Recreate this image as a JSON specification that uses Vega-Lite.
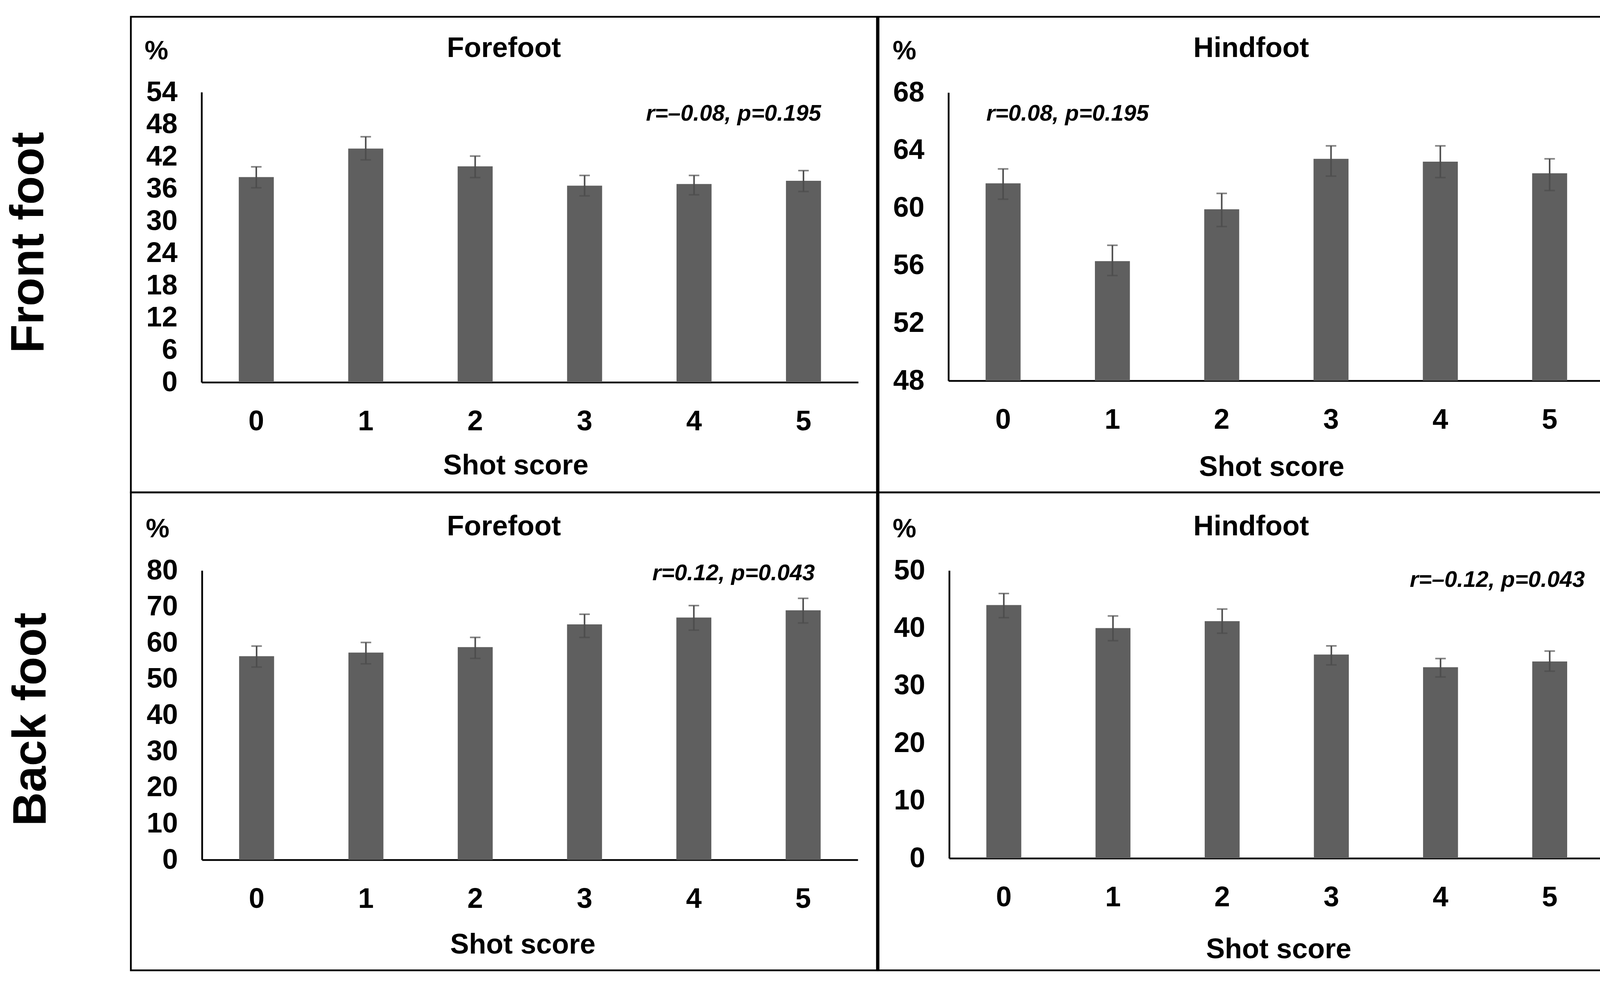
{
  "$schema": "https://vega.github.io/schema/vega-lite/v6.json",
  "padding": {"left": 0, "top": 40, "right": 0, "bottom": 0},
  "background": "white",
  "data": {
    "values": [
      {"panel": "front_fore", "score": 0, "mean": 38.2, "lo": 36.2, "hi": 40.1},
      {"panel": "front_fore", "score": 1, "mean": 43.5, "lo": 41.4, "hi": 45.7},
      {"panel": "front_fore", "score": 2, "mean": 40.2, "lo": 38.1, "hi": 42.1},
      {"panel": "front_fore", "score": 3, "mean": 36.6, "lo": 34.7, "hi": 38.5},
      {"panel": "front_fore", "score": 4, "mean": 36.9, "lo": 34.9, "hi": 38.5},
      {"panel": "front_fore", "score": 5, "mean": 37.5, "lo": 35.5, "hi": 39.4},
      {"panel": "front_hind", "score": 0, "mean": 61.7, "lo": 60.6, "hi": 62.7},
      {"panel": "front_hind", "score": 1, "mean": 56.3, "lo": 55.3, "hi": 57.4},
      {"panel": "front_hind", "score": 2, "mean": 59.9, "lo": 58.7, "hi": 61.0},
      {"panel": "front_hind", "score": 3, "mean": 63.4, "lo": 62.2, "hi": 64.3},
      {"panel": "front_hind", "score": 4, "mean": 63.2, "lo": 62.1, "hi": 64.3},
      {"panel": "front_hind", "score": 5, "mean": 62.4, "lo": 61.2, "hi": 63.4},
      {"panel": "back_fore", "score": 0, "mean": 56.3, "lo": 53.3, "hi": 59.1},
      {"panel": "back_fore", "score": 1, "mean": 57.3, "lo": 54.2, "hi": 60.1},
      {"panel": "back_fore", "score": 2, "mean": 58.8, "lo": 55.7, "hi": 61.5},
      {"panel": "back_fore", "score": 3, "mean": 65.1, "lo": 61.5, "hi": 67.9},
      {"panel": "back_fore", "score": 4, "mean": 67.0, "lo": 63.5, "hi": 70.3},
      {"panel": "back_fore", "score": 5, "mean": 69.0, "lo": 65.5, "hi": 72.3},
      {"panel": "back_hind", "score": 0, "mean": 44.0, "lo": 41.8, "hi": 46.0},
      {"panel": "back_hind", "score": 1, "mean": 40.0, "lo": 37.8, "hi": 42.1},
      {"panel": "back_hind", "score": 2, "mean": 41.2, "lo": 39.1, "hi": 43.3},
      {"panel": "back_hind", "score": 3, "mean": 35.4, "lo": 33.6, "hi": 36.9},
      {"panel": "back_hind", "score": 4, "mean": 33.2, "lo": 31.5, "hi": 34.7},
      {"panel": "back_hind", "score": 5, "mean": 34.2, "lo": 32.5, "hi": 36.0}
    ]
  },
  "columns": 3,
  "spacing": {"row": 0, "column": 4},
  "bounds": "flush",
  "concat": [
    {
      "width": 331, "height": 1218,
      "view": {"stroke": null},
      "data": {"values": [{"label": "Front foot"}]},
      "mark": {"type": "text", "angle": 270, "fontSize": 120, "fontWeight": "bold", "align": "center", "baseline": "middle", "dx": 31, "dy": -91, "color": "#000"},
      "encoding": {"text": {"field": "label"}}
    },
    {
      "width": 1910, "height": 1218,
      "title": {"text": "Forefoot", "offset": -118},
      "transform": [{"filter": "datum.panel === 'front_fore'"}],
      "encoding": {
        "x": {"field": "score", "type": "ordinal", "title": "Shot score",
              "scale": {"range": [181, 1862], "paddingInner": 0.68, "paddingOuter": 0.34},
              "axis": {"offset": -282, "titleX": 985, "titleY": 213}}
      },
      "layer": [
        {"mark": {"type": "bar", "color": "#5f5f5f"},
         "encoding": {"y": {"field": "mean", "type": "quantitative", "title": "%",
           "scale": {"domain": [0, 54], "range": [936, 193], "nice": false, "zero": false},
           "axis": {"offset": -181, "values": [0, 6, 12, 18, 24, 30, 36, 42, 48, 54], "format": "d", "titleX": -116, "titleY": 88}}}},
        {"mark": {"type": "rule", "color": "#4d4d4d", "strokeWidth": 4},
         "encoding": {"y": {"field": "lo", "type": "quantitative", "title": "%"}, "y2": {"field": "hi"}}},
        {"mark": {"type": "tick", "color": "#4d4d4d", "thickness": 4, "size": 27},
         "encoding": {"y": {"field": "hi", "type": "quantitative", "title": "%"}}},
        {"mark": {"type": "tick", "color": "#4d4d4d", "thickness": 4, "size": 27},
         "encoding": {"y": {"field": "lo", "type": "quantitative", "title": "%"}}},
        {"data": {"values": [{"panel": "front_fore", "note": "r=–0.08, p=0.195"}]},
         "mark": {"type": "text", "align": "right", "baseline": "middle", "dx": 45, "fontSize": 58, "fontStyle": "italic", "fontWeight": "bold", "color": "#000"},
         "encoding": {"x": {"datum": 5, "type": "ordinal"}, "y": {"datum": 49.9, "type": "quantitative"}, "text": {"field": "note"}}}
      ]
    },
    {
      "width": 1908, "height": 1218,
      "view": {"strokeDash": [1908, 1218, 3126, 10]},
      "title": {"text": "Hindfoot", "offset": -118},
      "transform": [{"filter": "datum.panel === 'front_hind'"}],
      "encoding": {
        "x": {"field": "score", "type": "ordinal", "title": "Shot score",
              "scale": {"range": [179, 1858], "paddingInner": 0.68, "paddingOuter": 0.34},
              "axis": {"offset": -286, "titleX": 1006, "titleY": 221}}
      },
      "layer": [
        {"mark": {"type": "bar", "color": "#5f5f5f"},
         "encoding": {"y": {"field": "mean", "type": "quantitative", "title": "%",
           "scale": {"domain": [48, 68], "range": [932, 194], "nice": false, "zero": false},
           "axis": {"offset": -179, "values": [48, 52, 56, 60, 64, 68], "format": "d", "titleX": -113, "titleY": 88}},
           "y2": {"datum": 48}}},
        {"mark": {"type": "rule", "color": "#4d4d4d", "strokeWidth": 4},
         "encoding": {"y": {"field": "lo", "type": "quantitative", "title": "%"}, "y2": {"field": "hi"}}},
        {"mark": {"type": "tick", "color": "#4d4d4d", "thickness": 4, "size": 27},
         "encoding": {"y": {"field": "hi", "type": "quantitative", "title": "%"}}},
        {"mark": {"type": "tick", "color": "#4d4d4d", "thickness": 4, "size": 27},
         "encoding": {"y": {"field": "lo", "type": "quantitative", "title": "%"}}},
        {"data": {"values": [{"panel": "front_hind", "note": "r=0.08, p=0.195"}]},
         "mark": {"type": "text", "align": "left", "baseline": "middle", "dx": -43, "fontSize": 58, "fontStyle": "italic", "fontWeight": "bold", "color": "#000"},
         "encoding": {"x": {"datum": 0, "type": "ordinal"}, "y": {"datum": 66.5, "type": "quantitative"}, "text": {"field": "note"}}}
      ]
    },
    {
      "width": 331, "height": 1224,
      "view": {"stroke": null},
      "data": {"values": [{"label": "Back foot"}]},
      "mark": {"type": "text", "angle": 270, "fontSize": 120, "fontWeight": "bold", "align": "center", "baseline": "middle", "dx": 31, "dy": -85, "color": "#000"},
      "encoding": {"text": {"field": "label"}}
    },
    {
      "width": 1910, "height": 1224,
      "title": {"text": "Forefoot", "offset": -125},
      "transform": [{"filter": "datum.panel === 'back_fore'"}],
      "encoding": {
        "x": {"field": "score", "type": "ordinal", "title": "Shot score",
              "scale": {"range": [182, 1861], "paddingInner": 0.68, "paddingOuter": 0.34},
              "axis": {"offset": -283, "titleX": 1003, "titleY": 217}}
      },
      "layer": [
        {"mark": {"type": "bar", "color": "#5f5f5f"},
         "encoding": {"y": {"field": "mean", "type": "quantitative", "title": "%",
           "scale": {"domain": [0, 80], "range": [941, 200], "nice": false, "zero": false},
           "axis": {"offset": -182, "values": [0, 10, 20, 30, 40, 50, 60, 70, 80], "format": "d", "titleX": -114, "titleY": 94}}}},
        {"mark": {"type": "rule", "color": "#4d4d4d", "strokeWidth": 4},
         "encoding": {"y": {"field": "lo", "type": "quantitative", "title": "%"}, "y2": {"field": "hi"}}},
        {"mark": {"type": "tick", "color": "#4d4d4d", "thickness": 4, "size": 27},
         "encoding": {"y": {"field": "hi", "type": "quantitative", "title": "%"}}},
        {"mark": {"type": "tick", "color": "#4d4d4d", "thickness": 4, "size": 27},
         "encoding": {"y": {"field": "lo", "type": "quantitative", "title": "%"}}},
        {"data": {"values": [{"panel": "back_fore", "note": "r=0.12, p=0.043"}]},
         "mark": {"type": "text", "align": "right", "baseline": "middle", "dx": 30, "fontSize": 58, "fontStyle": "italic", "fontWeight": "bold", "color": "#000"},
         "encoding": {"x": {"datum": 5, "type": "ordinal"}, "y": {"datum": 79.1, "type": "quantitative"}, "text": {"field": "note"}}}
      ]
    },
    {
      "width": 1908, "height": 1224,
      "view": {"strokeDash": [1908, 1224, 3132, 10]},
      "title": {"text": "Hindfoot", "offset": -125},
      "transform": [{"filter": "datum.panel === 'back_hind'"}],
      "encoding": {
        "x": {"field": "score", "type": "ordinal", "title": "Shot score",
              "scale": {"range": [181, 1858], "paddingInner": 0.68, "paddingOuter": 0.34},
              "axis": {"offset": -287, "titleX": 1024, "titleY": 233}}
      },
      "layer": [
        {"mark": {"type": "bar", "color": "#5f5f5f"},
         "encoding": {"y": {"field": "mean", "type": "quantitative", "title": "%",
           "scale": {"domain": [0, 50], "range": [937, 200], "nice": false, "zero": false},
           "axis": {"offset": -181, "values": [0, 10, 20, 30, 40, 50], "format": "d", "titleX": -115, "titleY": 94}},
           "y2": {"datum": 0}}},
        {"mark": {"type": "rule", "color": "#4d4d4d", "strokeWidth": 4},
         "encoding": {"y": {"field": "lo", "type": "quantitative", "title": "%"}, "y2": {"field": "hi"}}},
        {"mark": {"type": "tick", "color": "#4d4d4d", "thickness": 4, "size": 27},
         "encoding": {"y": {"field": "hi", "type": "quantitative", "title": "%"}}},
        {"mark": {"type": "tick", "color": "#4d4d4d", "thickness": 4, "size": 27},
         "encoding": {"y": {"field": "lo", "type": "quantitative", "title": "%"}}},
        {"data": {"values": [{"panel": "back_hind", "note": "r=–0.12, p=0.043"}]},
         "mark": {"type": "text", "align": "right", "baseline": "middle", "dx": 90, "fontSize": 58, "fontStyle": "italic", "fontWeight": "bold", "color": "#000"},
         "encoding": {"x": {"datum": 5, "type": "ordinal"}, "y": {"datum": 48.3, "type": "quantitative"}, "text": {"field": "note"}}}
      ]
    }
  ],
  "config": {
    "font": "Liberation Sans",
    "view": {"stroke": "#000000", "strokeWidth": 4.5},
    "title": {"font": "Liberation Sans", "fontWeight": "bold", "fontSize": 72, "color": "#000000", "baseline": "middle", "anchor": "middle"},
    "axis": {
      "domainColor": "#000000", "domainWidth": 4.5, "ticks": false, "tickSize": 0, "grid": false,
      "labelFont": "Liberation Sans", "labelFontWeight": "bold", "labelFontSize": 72, "labelColor": "#000000",
      "titleFont": "Liberation Sans", "titleFontWeight": "bold", "titleFontSize": 72, "titleColor": "#000000"
    },
    "axisX": {"labelAngle": 0, "labelPadding": 65, "titleBaseline": "middle", "titleAlign": "center"},
    "axisY": {"labelPadding": 62, "titleAngle": 0, "titleAlign": "center", "titleBaseline": "middle", "titleFontSize": 68, "labelBaseline": "middle"}
  }
}
